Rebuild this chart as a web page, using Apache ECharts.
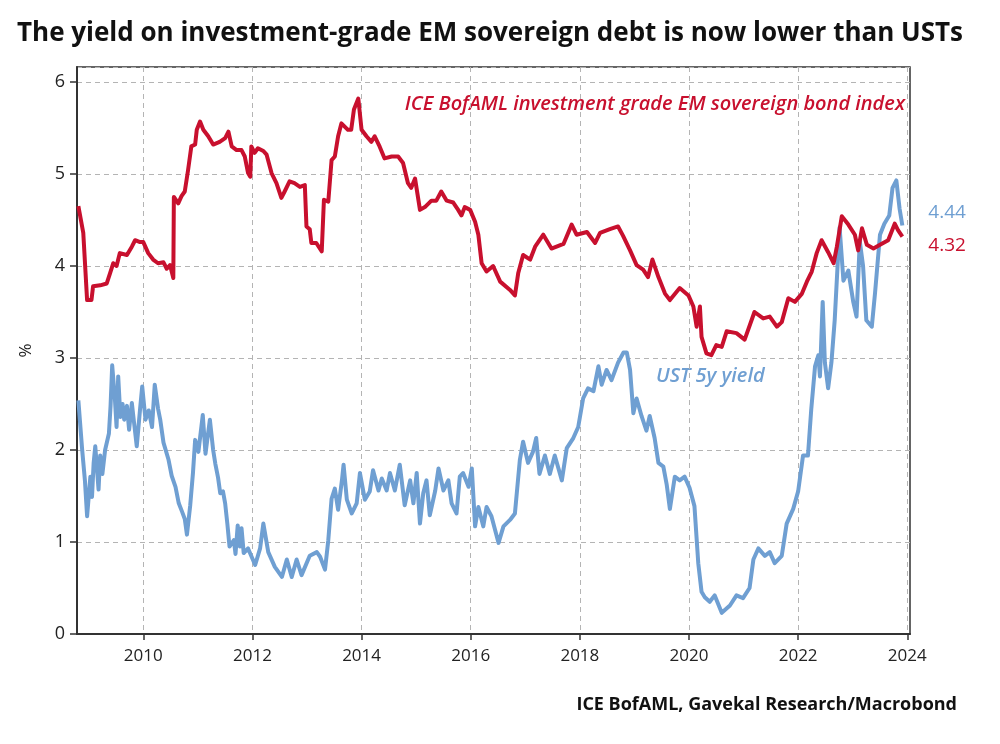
<!DOCTYPE html>
<html lang="en">
<head>
    <meta charset="UTF-8">
    <title>EM sovereign vs UST yields</title>
    <style>
        html, body { margin: 0; padding: 0; background: #fff; }
        #main { width: 1000px; height: 744px; }
    </style>
</head>
<body>
    <div id="main"></div>
    <script src="https://cdn.jsdelivr.net/npm/echarts@6/dist/echarts.min.js"></script>
    <script>
        // ICE BofAML investment grade EM sovereign bond index (yield, %)
        const emDates = [
            2008.81, 2008.90, 2008.97, 2009.05, 2009.08, 2009.21, 2009.33, 2009.39, 2009.45, 2009.51,
            2009.57, 2009.70, 2009.79, 2009.85, 2009.94, 2010.00, 2010.09, 2010.18, 2010.27, 2010.37,
            2010.43, 2010.49, 2010.55, 2010.56, 2010.64, 2010.70, 2010.76, 2010.82, 2010.88, 2010.95,
            2010.98, 2011.04, 2011.10, 2011.19, 2011.28, 2011.40, 2011.50, 2011.56, 2011.62, 2011.71,
            2011.80, 2011.86, 2011.92, 2011.96, 2011.98, 2012.04, 2012.10, 2012.20, 2012.26, 2012.35,
            2012.44, 2012.53, 2012.59, 2012.68, 2012.77, 2012.87, 2012.96, 2012.99, 2013.05, 2013.08,
            2013.17, 2013.27, 2013.31, 2013.39, 2013.45, 2013.51, 2013.57, 2013.63, 2013.75, 2013.81,
            2013.86, 2013.94, 2013.97, 2014.00, 2014.09, 2014.18, 2014.24, 2014.33, 2014.42, 2014.55,
            2014.67, 2014.76, 2014.85, 2014.91, 2014.98, 2015.07, 2015.16, 2015.28, 2015.37, 2015.46,
            2015.56, 2015.68, 2015.77, 2015.83, 2015.89, 2015.99, 2016.08, 2016.14, 2016.20, 2016.29,
            2016.41, 2016.54, 2016.72, 2016.81, 2016.87, 2016.96, 2017.09, 2017.18, 2017.33, 2017.48,
            2017.70, 2017.85, 2017.94, 2018.13, 2018.28, 2018.37, 2018.55, 2018.70, 2018.79, 2018.92,
            2019.04, 2019.16, 2019.25, 2019.33, 2019.44, 2019.56, 2019.65, 2019.83, 2019.99, 2020.08,
            2020.14, 2020.20, 2020.23, 2020.32, 2020.41, 2020.50, 2020.60, 2020.69, 2020.87, 2021.02,
            2021.20, 2021.36, 2021.48, 2021.61, 2021.70, 2021.82, 2021.94, 2022.07, 2022.16, 2022.25,
            2022.34, 2022.43, 2022.55, 2022.65, 2022.71, 2022.80, 2022.92, 2023.04, 2023.10, 2023.17,
            2023.26, 2023.38, 2023.50, 2023.65, 2023.77, 2023.83, 2023.91
        ];
        const emValues = [
            4.65, 4.36, 3.63, 3.63, 3.78, 3.79, 3.81, 3.92, 4.03, 4.00,
            4.14, 4.12, 4.21, 4.28, 4.26, 4.26, 4.14, 4.07, 4.03, 4.04,
            3.97, 4.01, 3.87, 4.75, 4.68, 4.76, 4.81, 5.04, 5.30, 5.32,
            5.48, 5.57, 5.48, 5.41, 5.32, 5.35, 5.39, 5.46, 5.30, 5.26,
            5.26, 5.19, 5.01, 4.97, 5.30, 5.23, 5.28, 5.25, 5.21, 5.01,
            4.90, 4.74, 4.81, 4.92, 4.90, 4.86, 4.88, 4.43, 4.40, 4.25,
            4.25, 4.16, 4.72, 4.70, 5.15, 5.19, 5.41, 5.55, 5.48, 5.48,
            5.70, 5.82, 5.84, 5.48, 5.41, 5.35, 5.41, 5.30, 5.17, 5.19,
            5.19, 5.12, 4.90, 4.85, 4.95, 4.61, 4.64, 4.71, 4.71, 4.81,
            4.71, 4.69, 4.61, 4.55, 4.64, 4.61, 4.48, 4.34, 4.03, 3.94,
            4.00, 3.83, 3.74, 3.68, 3.92, 4.12, 4.07, 4.21, 4.34, 4.19,
            4.24, 4.45, 4.34, 4.37, 4.25, 4.36, 4.40, 4.43, 4.33, 4.17,
            4.01, 3.96, 3.88, 4.07, 3.88, 3.70, 3.63, 3.76, 3.68, 3.56,
            3.34, 3.56, 3.23, 3.05, 3.03, 3.14, 3.12, 3.29, 3.27, 3.20,
            3.50, 3.43, 3.45, 3.34, 3.39, 3.65, 3.61, 3.70, 3.83, 3.94,
            4.14, 4.28, 4.15, 4.03, 4.21, 4.54, 4.45, 4.34, 4.17, 4.41,
            4.23, 4.19, 4.23, 4.28, 4.46, 4.39, 4.32
        ];

        // UST 5y yield (%)
        const ustDates = [
            2008.81, 2008.88, 2008.93, 2008.97, 2009.03, 2009.06, 2009.09, 2009.12, 2009.18, 2009.21,
            2009.25, 2009.30, 2009.37, 2009.40, 2009.43, 2009.48, 2009.51, 2009.54, 2009.58, 2009.62,
            2009.65, 2009.70, 2009.74, 2009.79, 2009.83, 2009.88, 2009.94, 2009.98, 2010.04, 2010.10,
            2010.16, 2010.21, 2010.27, 2010.31, 2010.37, 2010.46, 2010.52, 2010.59, 2010.65, 2010.71,
            2010.76, 2010.80, 2010.86, 2010.91, 2010.95, 2011.01, 2011.09, 2011.14, 2011.17, 2011.22,
            2011.28, 2011.32, 2011.37, 2011.41, 2011.46, 2011.50, 2011.54, 2011.58, 2011.66, 2011.69,
            2011.73, 2011.77, 2011.80, 2011.84, 2011.92, 2012.05, 2012.14, 2012.20, 2012.29, 2012.41,
            2012.54, 2012.63, 2012.72, 2012.81, 2012.90, 2013.05, 2013.18, 2013.24, 2013.33, 2013.39,
            2013.45, 2013.51, 2013.57, 2013.64, 2013.67, 2013.73, 2013.82, 2013.91, 2013.97, 2014.06,
            2014.15, 2014.21, 2014.31, 2014.37, 2014.46, 2014.52, 2014.61, 2014.70, 2014.79, 2014.89,
            2014.95, 2015.01, 2015.07, 2015.13, 2015.19, 2015.25, 2015.35, 2015.41, 2015.50, 2015.59,
            2015.65, 2015.74, 2015.80, 2015.86, 2015.96, 2016.02, 2016.08, 2016.14, 2016.23, 2016.29,
            2016.38, 2016.51, 2016.60, 2016.72, 2016.81, 2016.90, 2016.96, 2017.05, 2017.14, 2017.20,
            2017.26, 2017.36, 2017.45, 2017.54, 2017.67, 2017.76, 2017.88, 2017.97, 2018.06, 2018.15,
            2018.25, 2018.34, 2018.40, 2018.49, 2018.58, 2018.70, 2018.80, 2018.86, 2018.92, 2018.98,
            2019.04, 2019.13, 2019.22, 2019.28, 2019.37, 2019.44, 2019.53, 2019.59, 2019.65, 2019.74,
            2019.83, 2019.92, 2020.01, 2020.10, 2020.17, 2020.23, 2020.29, 2020.38, 2020.47, 2020.60,
            2020.75, 2020.87, 2020.99, 2021.11, 2021.18, 2021.27, 2021.39, 2021.48, 2021.57, 2021.70,
            2021.79, 2021.91, 2022.00, 2022.09, 2022.18, 2022.24, 2022.31, 2022.37, 2022.40, 2022.45,
            2022.49, 2022.55, 2022.61, 2022.67, 2022.76, 2022.83, 2022.92, 2023.01, 2023.07, 2023.13,
            2023.19, 2023.25, 2023.35, 2023.41, 2023.50, 2023.58, 2023.67, 2023.73, 2023.80, 2023.86,
            2023.91
        ];
        const ustValues = [
            2.54, 2.00, 1.67, 1.28, 1.71, 1.49, 1.86, 2.04, 1.57, 1.94,
            1.74, 2.00, 2.18, 2.48, 2.92, 2.55, 2.25, 2.80, 2.36, 2.50,
            2.33, 2.48, 2.22, 2.51, 2.30, 2.04, 2.44, 2.69, 2.33, 2.43,
            2.25, 2.71, 2.45, 2.33, 2.08, 1.90, 1.72, 1.60, 1.42, 1.33,
            1.25, 1.08, 1.40, 1.75, 2.11, 1.98, 2.38, 1.96, 2.10, 2.33,
            2.00, 1.85, 1.70, 1.53, 1.55, 1.42, 1.20, 0.95, 1.02, 0.87,
            1.18, 0.95, 1.15, 0.88, 0.93, 0.75, 0.93, 1.20, 0.89, 0.73,
            0.62, 0.81, 0.62, 0.81, 0.64, 0.85, 0.89, 0.84, 0.70, 1.02,
            1.47, 1.58, 1.35, 1.67, 1.84, 1.46, 1.31, 1.42, 1.75, 1.46,
            1.55, 1.78, 1.56, 1.69, 1.56, 1.75, 1.56, 1.84, 1.40, 1.67,
            1.42, 1.75, 1.20, 1.53, 1.67, 1.29, 1.56, 1.80, 1.56, 1.67,
            1.42, 1.31, 1.71, 1.75, 1.60, 1.80, 1.17, 1.38, 1.17, 1.38,
            1.28, 0.99, 1.17, 1.24, 1.31, 1.89, 2.09, 1.86, 1.98, 2.13,
            1.74, 1.94, 1.74, 1.94, 1.67, 2.02, 2.13, 2.25, 2.56, 2.67,
            2.64, 2.91, 2.71, 2.87, 2.76, 2.95, 3.06, 3.06, 2.87, 2.40,
            2.56, 2.37, 2.21, 2.37, 2.13, 1.86, 1.82, 1.63, 1.36, 1.71,
            1.67, 1.71, 1.59, 1.39, 0.77, 0.46, 0.40, 0.35, 0.42, 0.23,
            0.31, 0.42, 0.39, 0.50, 0.81, 0.93, 0.85, 0.89, 0.77, 0.85,
            1.20, 1.36, 1.55, 1.94, 1.94, 2.44, 2.91, 3.03, 2.80, 3.61,
            2.95, 2.67, 2.95, 3.41, 4.42, 3.84, 3.95, 3.61, 3.45, 4.27,
            4.00, 3.41, 3.34, 3.71, 4.34, 4.46, 4.55, 4.85, 4.93, 4.62,
            4.44
        ];

        const yearTicks = [2010, 2012, 2014, 2016, 2018, 2020, 2022, 2024];

        const RED = '#c8102e';
        const BLUE = '#6f9fd2';

        const toPairs = (xs, ys) => xs.map((x, i) => [x, ys[i]]);

        const myChart = echarts.init(document.getElementById('main'));

        const font = 'Open Sans';
        const gridLine = { show: true, lineStyle: { color: '#b4b4b4', type: [5, 4], width: 1 } };

        const option = {
            backgroundColor: '#fff',
            animation: false,
            title: [{
                text: 'The yield on investment-grade EM sovereign debt is now lower than USTs',
                left: 12,
                top: 16,
                textStyle: { fontFamily: font, fontWeight: 'bold', fontSize: 26, color: '#111' }
            }, {
                text: 'ICE BofAML, Gavekal Research/Macrobond',
                right: 38,
                top: 691,
                textStyle: { fontFamily: font, fontWeight: 'bold', fontSize: 18, color: '#111' }
            }],
            grid: {
                left: 77,
                right: 90,
                top: 67,
                bottom: 110,
                show: true,
                borderColor: '#333',
                borderWidth: 1.5,
                backgroundColor: 'transparent'
            },
            xAxis: {
                type: 'value',
                min: 2008.785,
                max: 2024.05,
                axisLine: { show: true, lineStyle: { color: '#333', width: 2 } },
                axisTick: {
                    show: true,
                    customValues: yearTicks,
                    length: 6,
                    lineStyle: { color: '#333', width: 1.5 }
                },
                axisLabel: {
                    customValues: yearTicks,
                    margin: 14,
                    fontFamily: font,
                    fontSize: 17,
                    color: '#222',
                    formatter: v => String(Math.round(v))
                },
                splitLine: gridLine
            },
            yAxis: {
                type: 'value',
                min: 0,
                max: 6.163,
                interval: 1,
                name: '%',
                nameLocation: 'middle',
                nameRotate: 90,
                nameGap: 42,
                nameTextStyle: { fontFamily: font, fontSize: 17, color: '#222' },
                axisLine: { show: true, lineStyle: { color: '#333', width: 2 } },
                axisTick: { show: true, length: 7, lineStyle: { color: '#333', width: 1.5 } },
                axisLabel: {
                    showMaxLabel: false,
                    margin: 12,
                    fontFamily: font,
                    fontSize: 18,
                    color: '#222'
                },
                splitLine: gridLine
            },
            series: [{
                name: 'UST 5y yield',
                type: 'line',
                data: toPairs(ustDates, ustValues),
                showSymbol: false,
                lineStyle: { color: BLUE, width: 4, join: 'round' },
                itemStyle: { color: BLUE },
                endLabel: {
                    show: true,
                    formatter: p => p.value[1].toFixed(2),
                    color: BLUE,
                    fontFamily: font,
                    fontSize: 19,
                    offset: [18, -13]
                },
                z: 2
            }, {
                name: 'ICE BofAML investment grade EM sovereign bond index',
                type: 'line',
                data: toPairs(emDates, emValues),
                showSymbol: false,
                lineStyle: { color: RED, width: 4, join: 'round' },
                itemStyle: { color: RED },
                endLabel: {
                    show: true,
                    formatter: p => p.value[1].toFixed(2),
                    color: RED,
                    fontFamily: font,
                    fontSize: 19,
                    offset: [18, 9]
                },
                z: 3
            }],
            graphic: [{
                type: 'text',
                right: 95,
                top: 94,
                style: {
                    text: 'ICE BofAML investment grade EM sovereign bond index',
                    fill: RED,
                    font: 'italic 600 20px "Open Sans"'
                }
            }, {
                type: 'text',
                left: 656,
                top: 366,
                style: {
                    text: 'UST 5y yield',
                    fill: BLUE,
                    font: 'italic 600 20px "Open Sans"'
                }
            }]
        };

        myChart.setOption(option);
    </script>
</body>
</html>
